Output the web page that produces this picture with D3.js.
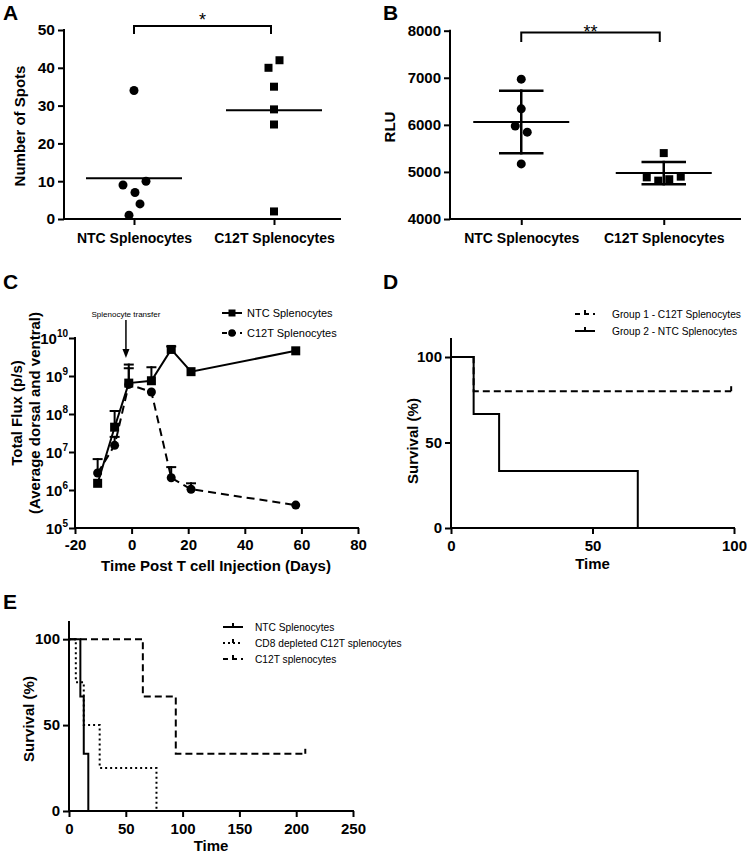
<!DOCTYPE html>
<html><head><meta charset="utf-8">
<script src="https://cdn.jsdelivr.net/npm/d3@7"></script>
<style>
body{margin:0;background:#fff}
svg{display:block;font-family:"Liberation Sans",Arial,sans-serif}
</style></head><body>
<svg id="fig" width="747" height="856"></svg>
<script>
// ---------- DATA ----------
const groups = ["NTC Splenocytes", "C12T Splenocytes"];
// Panel A (ELISpot)
const aNTC = [34, 10, 9, 7, 4, 1];
const aC12T = [42, 40, 35, 29, 25, 2];
const aMeans = [10.8, 28.8];
const aYTicks = [0, 10, 20, 30, 40, 50];
const aSig = "*";
// Panel B (RLU)
const bNTC = [6970, 6340, 5975, 5845, 5170];
const bC12T = [5400, 4885, 4815, 4845, 4900];
const bMeans = [6062, 4975];
const bSD = [665, 235];
const bYTicks = [4000, 5000, 6000, 7000, 8000];
const bSig = "**";
// Panel C (bioluminescence)
const cDays = [-12, -6, -1, 7, 14, 21, 58];
const cNTC = [1.5e6, 4.5e7, 6.5e8, 7.5e8, 5.0e9, 1.3e9, 4.6e9];
const cNTCUpper = [1.5e6, 1.2e8, 2.0e9, 1.7e9, 6.0e9, 1.3e9, 4.6e9];
const cC12T = [2.8e6, 1.5e7, 6.0e8, 3.8e8, 2.1e6, 1.05e6, 4.0e5];
const cC12TUpper = [6.5e6, 2.5e7, 1.6e9, 3.8e8, 4.0e6, 1.5e6, 4.0e5];
const cXTicks = [-20, 0, 20, 40, 60, 80];
const cYExps = [5, 6, 7, 8, 9, 10];
const cTransferDay = -2;
// Panel D (survival)
const dC12TTime = [0, 8, 99];
const dC12TSurv = [100, 80, 80];
const dNTCTime = [0, 8, 17, 66];
const dNTCSurv = [100, 66.7, 33.3, 0];
const dXTicks = [0, 50, 100];
const survTicks = [0, 50, 100];
// Panel E (survival)
const eNTCTime = [0, 10, 13, 17];
const eNTCSurv = [100, 66.7, 33.3, 0];
const eCD8Time = [0, 6, 13, 27, 77];
const eCD8Surv = [100, 75, 50, 25, 0];
const eC12TTime = [0, 65, 94, 208];
const eC12TSurv = [100, 66.7, 33.3, 33.3];
const eXTicks = [0, 50, 100, 150, 200, 250];

// layout-only jitter offsets for scatter dots (px)
const aNTCJit = [0, 12, -11, 1, 6, -5];
const aC12TJit = [5.5, -5.5, 0, 0, 0, 0];
const bNTCJit = [0, 0, -6, 6, 0];
const bC12TJit = [0, -17, -5.5, 5.5, 17];

// ---------- HELPERS ----------
const svg = d3.select("#fig");
const BOLD = "bold";
const plain = d => String(d);
function styleAxis(g, fs) {
  g.select(".domain").remove();
  g.selectAll(".tick line").attr("stroke", "#000").attr("stroke-width", 2);
  g.selectAll(".tick text").attr("fill", "#000").attr("font-size", fs || 15).attr("font-weight", BOLD).attr("font-family", '"Liberation Sans",Arial,sans-serif');
}
function hline(x1, x2, y, w) {
  svg.append("line").attr("x1", x1).attr("x2", x2).attr("y1", y).attr("y2", y)
    .attr("stroke", "#000").attr("stroke-width", w || 2).attr("stroke-linecap", "square");
}
function vline(x, y1, y2, w) {
  svg.append("line").attr("x1", x).attr("x2", x).attr("y1", y1).attr("y2", y2)
    .attr("stroke", "#000").attr("stroke-width", w || 2).attr("stroke-linecap", "square");
}
function letter(t, x, y) {
  svg.append("text").attr("x", x).attr("y", y).attr("font-size", 21).attr("font-weight", BOLD).text(t);
}
function yLabel(t, x, y, fs) {
  svg.append("text").attr("transform", `translate(${x},${y}) rotate(-90)`).attr("text-anchor", "middle")
    .attr("font-size", fs || 15).attr("font-weight", BOLD).text(t);
}
function xLabel(t, x, y, fs) {
  svg.append("text").attr("x", x).attr("y", y).attr("text-anchor", "middle")
    .attr("font-size", fs || 15).attr("font-weight", BOLD).text(t);
}

// ---------- PANEL A ----------
{
  const x = d3.scalePoint().domain(groups).range([64, 344]).padding(0.5);
  const y = d3.scaleLinear().domain([0, 50]).range([219, 30]);
  const gy = svg.append("g").attr("transform", "translate(64,0)")
    .call(d3.axisLeft(y).tickValues(aYTicks).tickFormat(plain).tickSize(6).tickPadding(3).tickSizeOuter(0));
  styleAxis(gy, 15.5);
  const gx = svg.append("g").attr("transform", "translate(0,219)")
    .call(d3.axisBottom(x).tickSize(6).tickPadding(8).tickSizeOuter(0));
  styleAxis(gx, 14);
  vline(64, 30, 219); hline(64, 340, 219);
  letter("A", 3, 20);
  yLabel("Number of Spots", 25, 126);
  aMeans.forEach((m, i) => hline(x(groups[i]) - 47, x(groups[i]) + 47, y(m)));
  svg.append("g").selectAll("circle").data(aNTC).join("circle")
    .attr("cx", (d, i) => x(groups[0]) + aNTCJit[i]).attr("cy", d => y(d)).attr("r", 4.5).attr("fill", "#000");
  svg.append("g").selectAll("rect").data(aC12T).join("rect")
    .attr("x", (d, i) => x(groups[1]) + aC12TJit[i] - 4).attr("y", d => y(d) - 4)
    .attr("width", 8).attr("height", 8).attr("fill", "#000");
  const bx1 = x(groups[0]), bx2 = x(groups[1]) - 3;
  svg.append("path").attr("d", `M${bx1},34V26H${bx2}V34`).attr("fill", "none").attr("stroke", "#000").attr("stroke-width", 2);
  svg.append("text").attr("x", (bx1 + bx2) / 2).attr("y", 26).attr("text-anchor", "middle").attr("font-size", 18).text(aSig);
}

// ---------- PANEL B ----------
{
  const x = d3.scalePoint().domain(groups).range([450, 735]).padding(0.5);
  const y = d3.scaleLinear().domain([4000, 8000]).range([219, 30.7]);
  const gy = svg.append("g").attr("transform", "translate(450,0)")
    .call(d3.axisLeft(y).tickValues(bYTicks).tickFormat(plain).tickSize(6).tickPadding(3).tickSizeOuter(0));
  styleAxis(gy);
  const gx = svg.append("g").attr("transform", "translate(0,219)")
    .call(d3.axisBottom(x).tickSize(6).tickPadding(8).tickSizeOuter(0));
  styleAxis(gx, 14);
  vline(450, 30.7, 219); hline(450, 740, 219);
  letter("B", 383, 20);
  yLabel("RLU", 395, 127);
  bMeans.forEach((m, i) => {
    const cx = x(groups[i]);
    hline(cx - 47, cx + 47, y(m));
    vline(cx, y(m - bSD[i]), y(m + bSD[i]), 2.5);
    hline(cx - 21, cx + 21, y(m + bSD[i]), 2.5);
    hline(cx - 21, cx + 21, y(m - bSD[i]), 2.5);
  });
  svg.append("g").selectAll("circle").data(bNTC).join("circle")
    .attr("cx", (d, i) => x(groups[0]) + bNTCJit[i]).attr("cy", d => y(d)).attr("r", 4.5).attr("fill", "#000");
  svg.append("g").selectAll("rect").data(bC12T).join("rect")
    .attr("x", (d, i) => x(groups[1]) + bC12TJit[i] - 4).attr("y", d => y(d) - 4)
    .attr("width", 8).attr("height", 8).attr("fill", "#000");
  const bx1 = x(groups[0]), bx2 = x(groups[1]) - 4;
  svg.append("path").attr("d", `M${bx1},42V32.5H${bx2}V42`).attr("fill", "none").attr("stroke", "#000").attr("stroke-width", 2);
  svg.append("text").attr("x", (bx1 + bx2) / 2).attr("y", 38).attr("text-anchor", "middle").attr("font-size", 18).text(bSig);
}

// ---------- PANEL C ----------
{
  const x = d3.scaleLinear().domain([-20, 80]).range([75, 358]);
  const y = d3.scaleLog().domain([1e5, 1e10]).range([528, 338]);
  const gx = svg.append("g").attr("transform", "translate(0,528)")
    .call(d3.axisBottom(x).tickValues(cXTicks).tickFormat(plain).tickSize(6).tickPadding(5).tickSizeOuter(0));
  styleAxis(gx);
  const gy = svg.append("g").attr("transform", "translate(75,0)")
    .call(d3.axisLeft(y).tickValues(cYExps.map(e => Math.pow(10, e))).tickSize(6).tickFormat(""));
  styleAxis(gy);
  cYExps.forEach(e => {
    const t = svg.append("text").attr("x", 68).attr("y", y(Math.pow(10, e)) + 6)
      .attr("text-anchor", "end").attr("font-size", 15).attr("font-weight", BOLD);
    t.append("tspan").text("10");
    t.append("tspan").attr("dy", -7).attr("font-size", 10).text(String(e));
  });
  vline(75, 338, 528); hline(75, 358, 528);
  letter("C", 3, 289);
  yLabel("Total Flux (p/s)", 22, 413);
  yLabel("(Average dorsal and ventral)", 40, 413);
  xLabel("Time Post T cell Injection (Days)", 216, 571);

  const line = d3.line().x((d, i) => x(cDays[i])).y(d => y(d));
  [[cNTC, cNTCUpper], [cC12T, cC12TUpper]].forEach(([v, u]) => {
    v.forEach((val, i) => {
      if (u[i] > val) {
        vline(x(cDays[i]), y(val), y(u[i]), 2);
        hline(x(cDays[i]) - 4, x(cDays[i]) + 4, y(u[i]), 2);
      }
    });
  });
  svg.append("path").datum(cC12T).attr("d", line).attr("fill", "none").attr("stroke", "#000")
    .attr("stroke-width", 2).attr("stroke-dasharray", "8,5");
  svg.append("path").datum(cNTC).attr("d", line).attr("fill", "none").attr("stroke", "#000").attr("stroke-width", 2);
  svg.append("g").selectAll("circle").data(cC12T).join("circle")
    .attr("cx", (d, i) => x(cDays[i])).attr("cy", d => y(d)).attr("r", 4.5).attr("fill", "#000");
  svg.append("g").selectAll("rect").data(cNTC).join("rect")
    .attr("x", (d, i) => x(cDays[i]) - 4.5).attr("y", d => y(d) - 4.5)
    .attr("width", 9).attr("height", 9).attr("fill", "#000");
  const ax = x(cTransferDay);
  svg.append("text").attr("x", ax).attr("y", 317).attr("text-anchor", "middle").attr("font-size", 8).text("Splenocyte transfer");
  svg.append("line").attr("x1", ax).attr("x2", ax).attr("y1", 320).attr("y2", 352).attr("stroke", "#000").attr("stroke-width", 1.5);
  svg.append("path").attr("d", `M${ax - 3.5},349L${ax},358L${ax + 3.5},349Z`).attr("fill", "#000");
  const lg = [[313, null, "rect", "NTC Splenocytes"], [333, "5,4", "circle", "C12T Splenocytes"]];
  lg.forEach(([ly, dash, mk, label]) => {
    svg.append("line").attr("x1", 222).attr("x2", 242).attr("y1", ly).attr("y2", ly)
      .attr("stroke", "#000").attr("stroke-width", 2).attr("stroke-dasharray", dash);
    if (mk === "rect") svg.append("rect").attr("x", 228.5).attr("y", ly - 3.5).attr("width", 7).attr("height", 7);
    else svg.append("circle").attr("cx", 232).attr("cy", ly).attr("r", 3.8);
    svg.append("text").attr("x", 247).attr("y", ly + 4).attr("font-size", 11).text(label);
  });
}

// ---------- survival helpers ----------
function survPath(x, y, times, surv, dash) {
  const pts = times.map((t, i) => [t, surv[i]]);
  svg.append("path").datum(pts)
    .attr("d", d3.line().x(d => x(d[0])).y(d => y(d[1])).curve(d3.curveStepAfter))
    .attr("fill", "none").attr("stroke", "#000").attr("stroke-width", 2)
    .attr("stroke-dasharray", dash);
}
function censor(x, y, t, s) {
  svg.append("line").attr("x1", x(t)).attr("x2", x(t)).attr("y1", y(s)).attr("y2", y(s) - 5)
    .attr("stroke", "#000").attr("stroke-width", 2);
}
function legendRow(x1, x2, tx, ly, dash, label) {
  svg.append("line").attr("x1", x1).attr("x2", x2).attr("y1", ly).attr("y2", ly)
    .attr("stroke", "#000").attr("stroke-width", 2).attr("stroke-dasharray", dash);
  svg.append("line").attr("x1", (x1 + x2) / 2).attr("x2", (x1 + x2) / 2).attr("y1", ly).attr("y2", ly - 4)
    .attr("stroke", "#000").attr("stroke-width", 2);
  svg.append("text").attr("x", tx).attr("y", ly + 4).attr("font-size", 10.2).text(label);
}

// ---------- PANEL D ----------
{
  const x = d3.scaleLinear().domain([0, 100]).range([451, 734]);
  const y = d3.scaleLinear().domain([0, 110]).range([528, 339.9]);
  const gx = svg.append("g").attr("transform", "translate(0,528)")
    .call(d3.axisBottom(x).tickValues(dXTicks).tickFormat(plain).tickSize(6).tickPadding(6).tickSizeOuter(0));
  styleAxis(gx);
  const gy = svg.append("g").attr("transform", "translate(451,0)")
    .call(d3.axisLeft(y).tickValues(survTicks).tickFormat(plain).tickSize(6).tickPadding(3).tickSizeOuter(0));
  styleAxis(gy);
  vline(451, 339, 528); hline(451, 734, 528);
  letter("D", 383, 289);
  yLabel("Survival (%)", 418, 441);
  xLabel("Time", x(50), 569);
  survPath(x, y, dC12TTime, dC12TSurv, "7,4");
  censor(x, y, dC12TTime[dC12TTime.length - 1], dC12TSurv[dC12TSurv.length - 1]);
  survPath(x, y, dNTCTime, dNTCSurv, null);
  legendRow(575, 595, 612, 314, "5,4", "Group 1 - C12T Splenocytes");
  legendRow(575, 595, 612, 331, null, "Group 2 - NTC Splenocytes");
}

// ---------- PANEL E ----------
{
  const x = d3.scaleLinear().domain([0, 250]).range([69, 353]);
  const y = d3.scaleLinear().domain([0, 110]).range([811, 622]);
  const gx = svg.append("g").attr("transform", "translate(0,811)")
    .call(d3.axisBottom(x).tickValues(eXTicks).tickFormat(plain).tickSize(6).tickPadding(6).tickSizeOuter(0));
  styleAxis(gx);
  const gy = svg.append("g").attr("transform", "translate(69,0)")
    .call(d3.axisLeft(y).tickValues(survTicks).tickFormat(plain).tickSize(6).tickPadding(3).tickSizeOuter(0));
  styleAxis(gy);
  vline(69, 622, 811); hline(69, 353, 811);
  letter("E", 3, 609);
  yLabel("Survival (%)", 34, 719);
  xLabel("Time", x(125), 851);
  survPath(x, y, eC12TTime, eC12TSurv, "7,4");
  censor(x, y, eC12TTime[eC12TTime.length - 1], eC12TSurv[eC12TSurv.length - 1]);
  survPath(x, y, eCD8Time, eCD8Surv, "2,3");
  survPath(x, y, eNTCTime, eNTCSurv, null);
  legendRow(223, 243, 255, 627, null, "NTC Splenocytes");
  legendRow(223, 243, 255, 643, "2,3", "CD8 depleted C12T splenocytes");
  legendRow(223, 243, 255, 659, "5,4", "C12T splenocytes");
}
</script>
</body></html>
